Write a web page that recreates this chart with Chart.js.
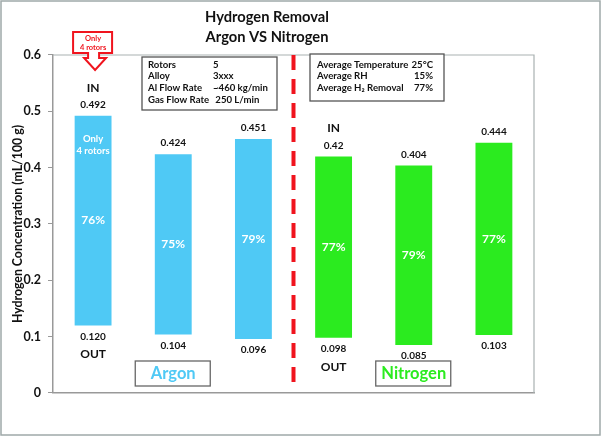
<!DOCTYPE html>
<html>
<head>
<meta charset="utf-8">
<script src="https://cdn.jsdelivr.net/npm/chart.js@4.4.0/dist/chart.umd.min.js"></script>
<style>
html, body { margin: 0; padding: 0; background: #fff; }
#wrap { width: 602px; height: 437px; }
</style>
</head>
<body>
<div id="wrap"><canvas id="myChart"></canvas></div>
<script>
// Values
const categories = ['Argon 1', 'Argon 2', 'Argon 3', 'Nitrogen 1', 'Nitrogen 2', 'Nitrogen 3'];
const gasGroups = ['Argon', 'Argon', 'Argon', 'Nitrogen', 'Nitrogen', 'Nitrogen'];
const inletValues = [0.492, 0.424, 0.451, 0.42, 0.404, 0.444];
const outletValues = [0.120, 0.104, 0.096, 0.098, 0.085, 0.103];
const removalLabels = ['76%', '75%', '79%', '77%', '79%', '77%'];
const yTicks = [0, 0.1, 0.2, 0.3, 0.4, 0.5, 0.6];
const argonInfo = [['Rotors', '5'], ['Alloy', '3xxx'], ['Al Flow Rate', '~460 kg/min'], ['Gas Flow Rate', ' 250 L/min']];
const nitrogenInfo = [['Average Temperature', '25°C'], ['Average RH', '15%'], ['Average H₂ Removal', '77%']];

const FONT = 'Lato, "Open Sans", sans-serif';
const BLUE = '#4FC9F5';
const GREEN = '#2BEB1F';
const barColors = gasGroups.map(g => g === 'Argon' ? BLUE : GREEN);

function font(size, weight) {
    return (weight || 'bold') + ' ' + size + 'px ' + FONT;
}

function text(ctx, str, x, y, size, color, align, weight) {
    ctx.font = font(size, weight);
    ctx.fillStyle = color;
    ctx.textAlign = align || 'center';
    ctx.textBaseline = 'middle';
    ctx.fillText(str, x, y);
}

// everything that is not a bar: frames, labels, boxes, divider
const extrasPlugin = {
    id: 'extras',
    afterDraw(chart) {
        const ctx = chart.ctx;
        const area = chart.chartArea;
        const xs = chart.scales.x;
        const ys = chart.scales.y;
        ctx.save();

        // outer frame of the picture
        ctx.strokeStyle = '#9fa9a9';
        ctx.lineWidth = 1.5;
        ctx.strokeRect(1, 1, 599, 434);

        // plot frame top and right
        ctx.strokeStyle = '#a9b1b1';
        ctx.lineWidth = 1.2;
        ctx.beginPath();
        ctx.moveTo(area.left, area.top);
        ctx.lineTo(area.right, area.top);
        ctx.lineTo(area.right, area.bottom);
        ctx.stroke();

        // red dashed divider between the two gases
        const divX = (xs.getPixelForValue(2) + xs.getPixelForValue(3)) / 2;
        ctx.strokeStyle = '#F0141E';
        ctx.lineWidth = 4;
        ctx.setLineDash([15, 9]);
        ctx.beginPath();
        ctx.moveTo(divX, area.top);
        ctx.lineTo(divX, area.bottom - 2);
        ctx.stroke();
        ctx.setLineDash([]);

        // value labels and removal percentages
        for (let i = 0; i < categories.length; i++) {
            const x = xs.getPixelForValue(i);
            const yTop = ys.getPixelForValue(inletValues[i]);
            const yBot = ys.getPixelForValue(outletValues[i]);
            text(ctx, String(inletValues[i]), x, yTop - 11, 10, '#111');
            text(ctx, outletValues[i].toFixed(3), x, yBot + 11, 10, '#111');
            text(ctx, removalLabels[i], x, (yTop + yBot) / 2, 12, '#fff');
        }

        // IN / OUT markers on first bar of each gas
        [0, 3].forEach(i => {
            const x = xs.getPixelForValue(i);
            const yTop = ys.getPixelForValue(inletValues[i]);
            const yBot = ys.getPixelForValue(outletValues[i]);
            text(ctx, 'IN', x, yTop - 28, 12, '#111');
            text(ctx, 'OUT', x, yBot + 29, 12, '#111');
        });

        // "Only 4 rotors" inside first bar
        const x0 = xs.getPixelForValue(0);
        const top0 = ys.getPixelForValue(inletValues[0]);
        text(ctx, 'Only', x0, top0 + 23, 9.5, '#fff');
        text(ctx, '4 rotors', x0, top0 + 35, 9.5, '#fff');

        // red callout arrow above first bar
        ctx.strokeStyle = '#F0141E';
        ctx.fillStyle = '#fff';
        ctx.lineWidth = 2;
        ctx.beginPath();
        ctx.moveTo(x0 - 20, 32);
        ctx.lineTo(x0 + 19, 32);
        ctx.lineTo(x0 + 19, 53);
        ctx.lineTo(x0 + 6, 53);
        ctx.lineTo(x0 + 6, 58);
        ctx.lineTo(x0 + 13, 58);
        ctx.lineTo(x0 + 2, 70);
        ctx.lineTo(x0 - 9, 58);
        ctx.lineTo(x0 - 5, 58);
        ctx.lineTo(x0 - 5, 53);
        ctx.lineTo(x0 - 20, 53);
        ctx.closePath();
        ctx.fill();
        ctx.stroke();
        text(ctx, 'Only', x0, 39, 7.5, '#F0141E');
        text(ctx, '4 rotors', x0, 48, 7.5, '#F0141E');

        // info boxes
        ctx.strokeStyle = '#555';
        ctx.lineWidth = 1.3;
        ctx.fillStyle = '#fff';
        ctx.fillRect(142, 57, 135, 53);
        ctx.strokeRect(142, 57, 135, 53);
        argonInfo.forEach((row, k) => {
            const y = 64.5 + k * 11.7;
            text(ctx, row[0], 148, y, 9.6, '#111', 'left');
            text(ctx, row[1], 213, y, 9.6, '#111', 'left');
        });
        ctx.fillStyle = '#fff';
        ctx.fillRect(310, 54, 134, 47);
        ctx.strokeRect(310, 54, 134, 47);
        nitrogenInfo.forEach((row, k) => {
            const y = 64.5 + k * 11.7;
            text(ctx, row[0], 317, y, 9.6, '#111', 'left');
            text(ctx, row[1], 433, y, 9.6, '#111', 'right');
        });

        // gas name boxes under the middle bar of each group
        [[1, 'Argon', BLUE], [4, 'Nitrogen', GREEN]].forEach(([i, name, col]) => {
            const x = xs.getPixelForValue(i);
            ctx.strokeStyle = '#666';
            ctx.lineWidth = 1.3;
            ctx.strokeRect(x - 38, 361, 75, 25);
            text(ctx, name, x, 374, 16.5, col);
        });

        ctx.restore();
    }
};

const myChart = new Chart(document.getElementById('myChart'), {
    type: 'bar',
    data: {
        labels: categories,
        datasets: [{
            data: categories.map((c, i) => [outletValues[i], inletValues[i]]),
            backgroundColor: barColors,
            borderWidth: 0,
            barPercentage: 0.46,
            categoryPercentage: 1
        }]
    },
    options: {
        responsive: true,
        maintainAspectRatio: false,
        animation: false,
        layout: { padding: { left: 0, right: 68, top: 0, bottom: 0 } },
        plugins: {
            legend: { display: false },
            tooltip: { enabled: false },
            title: {
                display: true,
                text: ['Hydrogen Removal', 'Argon VS Nitrogen'],
                color: '#111',
                font: { family: FONT, size: 14.7, weight: 'bold', lineHeight: 1.36 },
                padding: { top: 7, bottom: 8 }
            }
        },
        scales: {
            x: {
                grid: { display: false },
                border: { display: true, color: '#999', width: 1.5 },
                ticks: { display: false },
                afterFit(scale) { scale.height = 44; }
            },
            y: {
                min: 0,
                max: 0.6,
                afterBuildTicks(scale) { scale.ticks = yTicks.map(v => ({ value: v })); },
                ticks: {
                    color: '#111',
                    padding: 7,
                    font: { family: FONT, size: 12.5, weight: 'bold' },
                    callback: v => v === 0 ? '0' : v.toFixed(1)
                },
                grid: { drawOnChartArea: false, tickLength: 5, color: '#999' },
                border: { color: '#999', width: 1.5 },
                title: {
                    display: true,
                    text: 'Hydrogen Concentration (mL/100 g)',
                    color: '#111',
                    font: { family: FONT, size: 12.3, weight: 'bold' },
                    padding: { top: 11, bottom: 0 }
                },
                afterFit(scale) { scale.width = 53; }
            }
        }
    },
    plugins: [extrasPlugin]
});
</script>
</body>
</html>
